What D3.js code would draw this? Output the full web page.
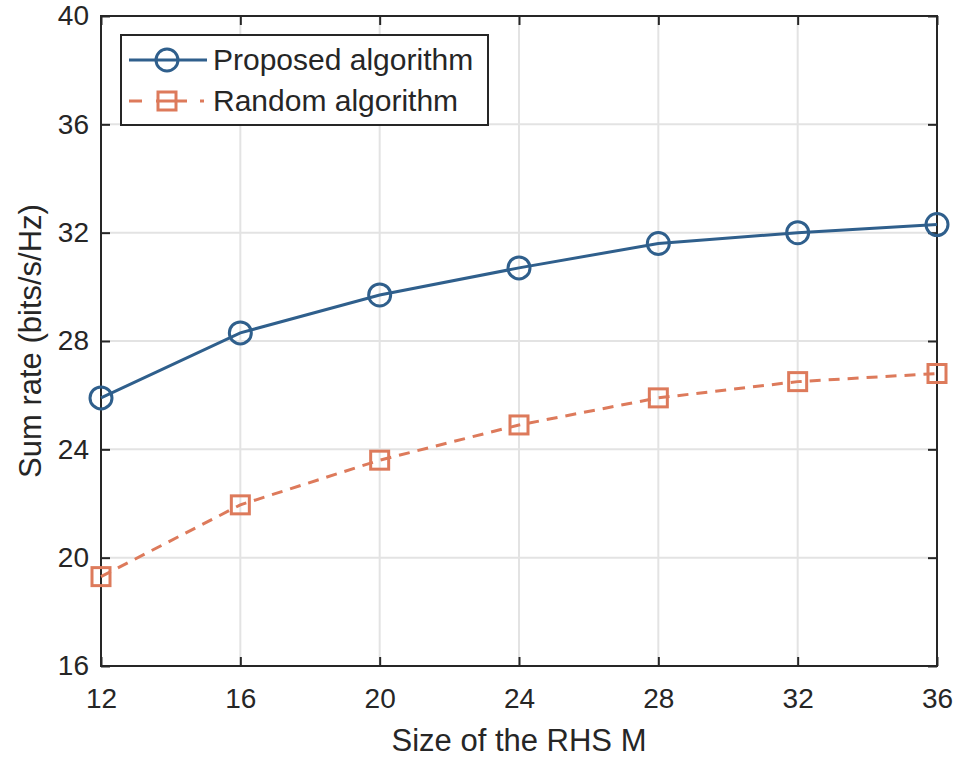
<!DOCTYPE html>
<html>
<head>
<meta charset="utf-8">
<script src="https://cdn.jsdelivr.net/npm/d3@7"></script>
<style>
  body { margin: 0; background: #fff; }
  text { font-family: "Liberation Sans", Arial, sans-serif; fill: #262626; }
</style>
</head>
<body>
<div id="chart"></div>
<script>
const sizes = [12, 16, 20, 24, 28, 32, 36];
const proposed = [25.9, 28.3, 29.7, 30.7, 31.6, 32.0, 32.3];
const random = [19.3, 21.95, 23.6, 24.9, 25.9, 26.5, 26.8];
const seriesNames = ["Proposed algorithm", "Random algorithm"];
const xTicks = [12, 16, 20, 24, 28, 32, 36];
const yTicks = [16, 20, 24, 28, 32, 36, 40];

const width = 959, height = 760;
const margin = { top: 16, right: 22, bottom: 94, left: 101 };
const blue = "#2f5f8c", orange = "#dd7a5b";

const svg = d3.select("#chart").append("svg")
  .attr("width", width).attr("height", height);

const x = d3.scaleLinear().domain([12, 36]).range([margin.left, width - margin.right]);
const y = d3.scaleLinear().domain([16, 40]).range([height - margin.bottom, margin.top]);

// grid
const grid = svg.append("g");
grid.selectAll(".gx").data(xTicks).enter().append("line")
  .attr("x1", d => x(d)).attr("x2", d => x(d))
  .attr("y1", y(16)).attr("y2", y(40))
  .attr("stroke", "#e3e3e3").attr("stroke-width", 2);
grid.selectAll(".gy").data(yTicks).enter().append("line")
  .attr("y1", d => y(d)).attr("y2", d => y(d))
  .attr("x1", x(12)).attr("x2", x(36))
  .attr("stroke", "#e3e3e3").attr("stroke-width", 2);

// axes, ticks pointing inward
const axisStyle = g => {
  g.select(".domain").remove();
  g.selectAll(".tick line").attr("stroke", "#262626").attr("stroke-width", 2);
  g.selectAll(".tick text").style("font-size", "28px")
    .style("font-family", "Liberation Sans, Arial, sans-serif").attr("fill", "#262626");
};
svg.append("g").attr("transform", `translate(0,${y(16)})`)
  .call(d3.axisBottom(x).tickValues(xTicks).tickSizeInner(-9).tickSizeOuter(0).tickPadding(22))
  .call(axisStyle);
svg.append("g").attr("transform", `translate(${x(12)},0)`)
  .call(d3.axisLeft(y).tickValues(yTicks).tickSizeInner(-9).tickSizeOuter(0).tickPadding(12))
  .call(axisStyle);
svg.append("g").attr("transform", `translate(0,${y(40)})`)
  .call(d3.axisTop(x).tickValues(xTicks).tickSizeInner(-9).tickSizeOuter(0).tickFormat(""))
  .call(axisStyle);
svg.append("g").attr("transform", `translate(${x(36)},0)`)
  .call(d3.axisRight(y).tickValues(yTicks).tickSizeInner(-9).tickSizeOuter(0).tickFormat(""))
  .call(axisStyle);

svg.append("rect")
  .attr("x", x(12)).attr("y", y(40))
  .attr("width", x(36) - x(12)).attr("height", y(16) - y(40))
  .attr("fill", "none").attr("stroke", "#262626").attr("stroke-width", 2);

// lines
const line = d3.line().x(d => x(d[0])).y(d => y(d[1]));
const pData = sizes.map((s, i) => [s, proposed[i]]);
const rData = sizes.map((s, i) => [s, random[i]]);

svg.append("path").datum(rData).attr("d", line)
  .attr("fill", "none").attr("stroke", orange).attr("stroke-width", 3)
  .attr("stroke-dasharray", "11,8");
svg.selectAll(".sq").data(rData).enter().append("rect")
  .attr("x", d => x(d[0]) - 9).attr("y", d => y(d[1]) - 9)
  .attr("width", 18).attr("height", 18)
  .attr("fill", "none").attr("stroke", orange).attr("stroke-width", 3);

svg.append("path").datum(pData).attr("d", line)
  .attr("fill", "none").attr("stroke", blue).attr("stroke-width", 3);
svg.selectAll(".ci").data(pData).enter().append("circle")
  .attr("cx", d => x(d[0])).attr("cy", d => y(d[1])).attr("r", 11)
  .attr("fill", "none").attr("stroke", blue).attr("stroke-width", 3);

// axis labels
svg.append("text")
  .attr("x", (x(12) + x(36)) / 2).attr("y", 751)
  .attr("text-anchor", "middle").style("font-size", "31px")
  .text("Size of the RHS M");
svg.append("text")
  .attr("transform", `translate(41,${(y(16) + y(40)) / 2}) rotate(-90)`)
  .attr("text-anchor", "middle").style("font-size", "31px")
  .text("Sum rate (bits/s/Hz)");

// legend
const legend = svg.append("g").attr("transform", "translate(121,35)");
legend.append("rect").attr("width", 367).attr("height", 90)
  .attr("fill", "#fff").attr("stroke", "#262626").attr("stroke-width", 2);

const l1 = legend.append("g").attr("transform", "translate(0,25)");
l1.append("line").attr("x1", 8).attr("x2", 86).attr("stroke", blue).attr("stroke-width", 3);
l1.append("circle").attr("cx", 46).attr("r", 11).attr("fill", "none")
  .attr("stroke", blue).attr("stroke-width", 3);
l1.append("text").attr("x", 92).attr("y", 10).style("font-size", "30px").text(seriesNames[0]);

const l2 = legend.append("g").attr("transform", "translate(0,66)");
l2.append("line").attr("x1", 8).attr("x2", 86).attr("stroke", orange).attr("stroke-width", 3)
  .attr("stroke-dasharray", "13,14,31,13,4,10");
l2.append("rect").attr("x", 37).attr("y", -9).attr("width", 18).attr("height", 18)
  .attr("fill", "none").attr("stroke", orange).attr("stroke-width", 3);
l2.append("text").attr("x", 92).attr("y", 10).style("font-size", "30px").text(seriesNames[1]);
</script>
</body>
</html>
